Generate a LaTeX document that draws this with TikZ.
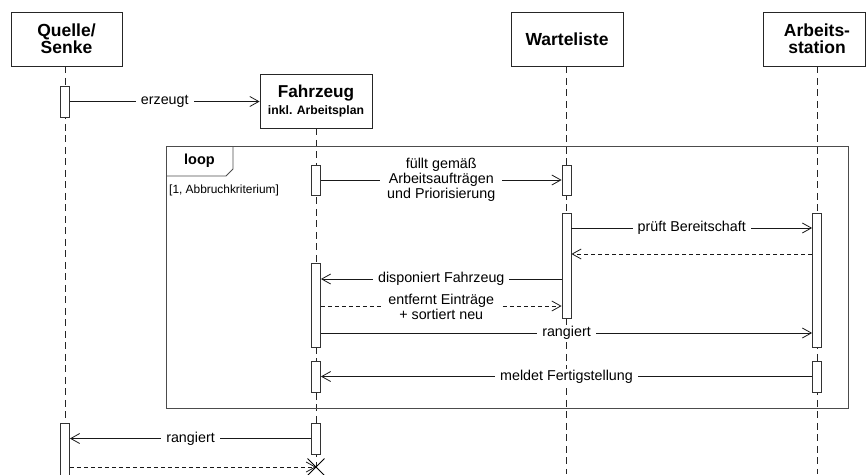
\documentclass[tikz,border=0pt]{standalone}
\usepackage{fontspec}
\setmainfont{Liberation Sans}
\usetikzlibrary{arrows.meta}
\begin{document}
\begin{tikzpicture}[x=1pt,y=-1pt,
 hdr/.style={draw=black!85, line width=0.8pt, fill=white, align=center, font=\fontsize{17.5}{17}\selectfont\bfseries, inner sep=0pt},
 act/.style={draw=black!80, line width=0.8pt, fill=white, minimum width=9pt, inner sep=0pt},
 life/.style={draw=black!85, line width=0.8pt, dash pattern=on 7pt off 4.5pt},
 frame/.style={draw=black!70, line width=0.9pt},
 msg/.style={draw=black!90, line width=0.8pt, -{Straight Barb[length=9pt,width=10pt,line width=0.8pt]}},
 ret/.style={msg, dash pattern=on 4pt off 3pt},
 lbl/.style={fill=white, text=black, font=\fontsize{14.3}{15}\selectfont, align=center, inner xsep=5pt, inner ysep=1pt}
]
\useasboundingbox (0,0) rectangle (866,474);

% header boxes
\node[hdr, minimum width=111pt, minimum height=54pt] (q) at (66.5,39) {Quelle/\\Senke};
\node[hdr, minimum width=112pt, minimum height=54pt] (w) at (567,39) {Warteliste};
\node[hdr, minimum width=102pt, minimum height=54pt] (as) at (814,39) {\hspace*{6pt}Arbeits-\\\hspace*{6pt}station};
\node[hdr, minimum width=112pt, minimum height=54pt] (f) at (316,101) {{\fontsize{17.2}{17}\selectfont Fahrzeug}\\[0pt]{\fontsize{12.2}{13}\selectfont inkl. Arbeitsplan}};

% lifeline ends
\coordinate (qe) at (65,474);
\coordinate (fe) at (316,474);
\coordinate (we) at (566.5,474);
\coordinate (ae) at (817,474);
\coordinate (fx) at (316,467);

\draw[life] (q.south -| qe) -- (qe);
\draw[life] (f.south -| fe) -- (fx);
\draw[life] (w.south -| we) -- (we);
\draw[life] (as.south -| ae) -- (ae);

% loop frame
\draw[frame] (166,146) rectangle (848,408);
\draw[frame] (166,176) -- (226,176) -- (233,169) -- (233,146);
\node[font=\fontsize{14.5}{16}\selectfont\bfseries] (lp) at (199.5,161) {loop};
\node[font=\fontsize{11.9}{13}\selectfont, anchor=west, inner sep=0pt] (cond) at (169,190) {[1, Abbruchkriterium]};

% activations
\node[act, minimum height=31pt] (qa1) at (65,101.5) {};
\node[act, minimum height=30pt] (fa1) at (316,180) {};
\node[act, minimum height=30pt] (wa1) at (566.5,180) {};
\node[act, minimum height=105pt] (wa2) at (566.5,265.5) {};
\node[act, minimum height=134pt] (aa1) at (817,280) {};
\node[act, minimum height=84pt] (fa2) at (316,305) {};
\node[act, minimum height=31pt] (fa3) at (316,376.5) {};
\node[act, minimum height=31pt] (aa2) at (817,376.5) {};
\node[act, minimum height=31pt] (fa4) at (316,438.5) {};
\node[act, minimum height=56pt] (qa2) at (65,451) {};

% message levels
\coordinate (m3) at (0,228);
\coordinate (m4) at (0,254);
\coordinate (m5) at (0,279);
\coordinate (m6) at (0,306);
\coordinate (m7) at (0,333);

% messages
\draw[msg] (qa1.east) -- (qa1.east -| f.west) node[lbl, midway] {erzeugt};
\draw[msg] (fa1.east) -- (fa1.east -| wa1.west) node[lbl, midway, inner xsep=7pt] {füllt gemäß\\Arbeitsaufträgen\\und Priorisierung};
\draw[msg] (wa2.east |- m3) -- (aa1.west |- m3) node[lbl, midway] {prüft Bereitschaft};
\draw[ret] (aa1.west |- m4) -- (wa2.east |- m4);
\draw[msg] (wa2.west |- m5) -- (fa2.east |- m5) node[lbl, midway] {disponiert Fahrzeug};
\draw[ret] (fa2.east |- m6) -- (wa2.west |- m6) node[lbl, midway, yshift=-0.5pt, inner xsep=7pt] {entfernt Einträge\\+ sortiert neu};
\draw[msg] (fa2.east |- m7) -- (aa1.west |- m7) node[lbl, midway] {rangiert};
\draw[msg] (aa2.west) -- (aa2.west -| fa3.east) node[lbl, midway] {meldet Fertigstellung};
\draw[msg] (fa4.west) -- (fa4.west -| qa2.east) node[lbl, midway] {rangiert};
\draw[ret] (qa2.east |- fx) -- (fx);

% destruction mark
\draw[draw=black, line width=1pt] ([shift={(-8.5,-8.5)}]fx) -- ([shift={(8.5,8.5)}]fx)
  ([shift={(-8.5,8.5)}]fx) -- ([shift={(8.5,-8.5)}]fx);
\end{tikzpicture}
\end{document}
